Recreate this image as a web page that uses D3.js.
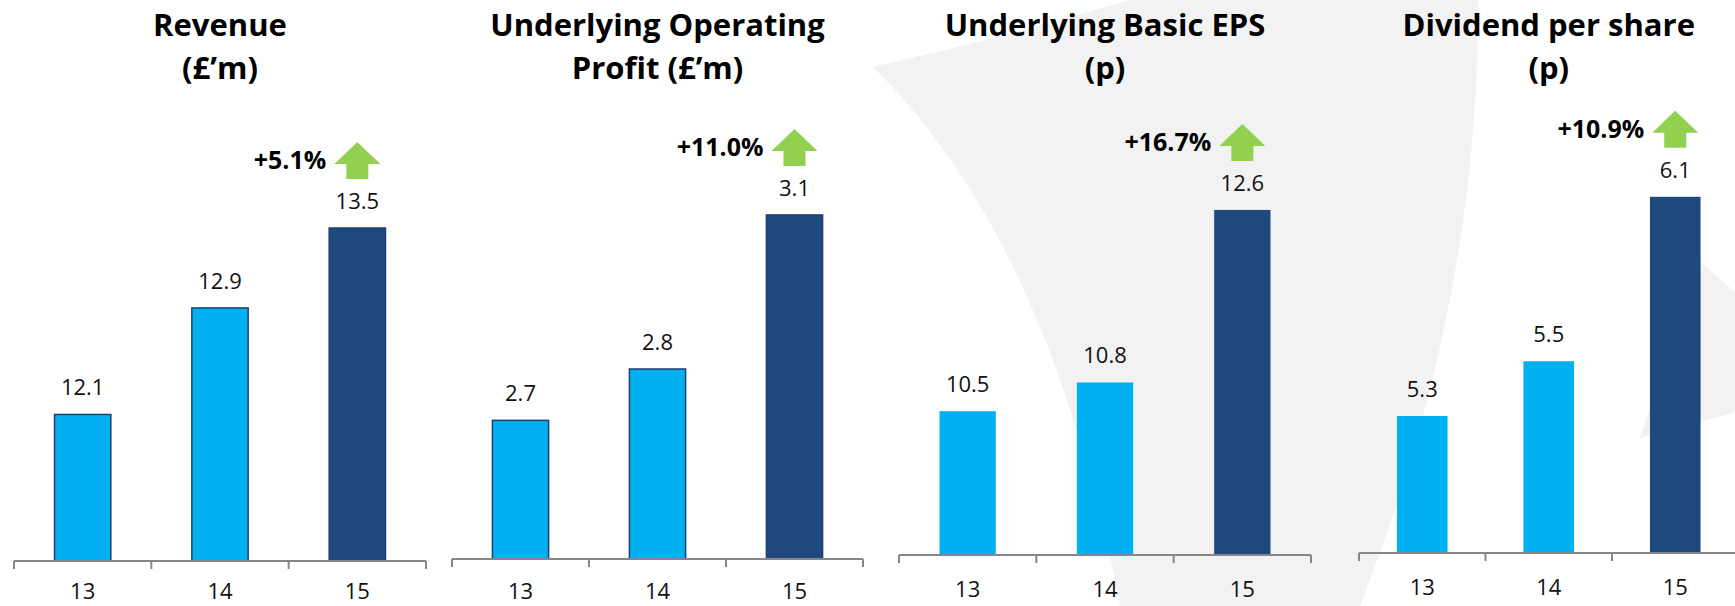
<!DOCTYPE html>
<html>
<head>
<meta charset="utf-8">
<script src="https://cdn.jsdelivr.net/npm/d3@7"></script>
<style>
  html, body { margin: 0; padding: 0; background: #fff; }
  svg { display: block; font-family: "Open Sans", "DejaVu Sans", sans-serif; }
</style>
</head>
<body>
<svg id="chart" width="1735" height="606"></svg>
<script>
// Valores (anos fiscais 13, 14, 15)
const YEARS = ["13", "14", "15"];
const REVENUE = [12.1, 12.9, 13.5];
const OPERATING_PROFIT = [2.7, 2.8, 3.1];
const BASIC_EPS = [10.5, 10.8, 12.6];
const DIVIDEND = [5.3, 5.5, 6.1];
const SERIES = [REVENUE, OPERATING_PROFIT, BASIC_EPS, DIVIDEND];

const TITLES = [
  ["Revenue", "(£’m)"],
  ["Underlying Operating", "Profit (£’m)"],
  ["Underlying Basic EPS", "(p)"],
  ["Dividend per share", "(p)"],
];
const GROWTH = ["+5.1%", "+11.0%", "+16.7%", "+10.9%"];

// Eixo Y de cada painel não começa em zero (como no original do Excel)
const Y_DOMAINS = [[11, 14], [2.43, 3.2], [9, 13], [4.8, 6.2]];

// Layout de cada painel: faixa do eixo x, linha de base e topo da área de plotagem
const PANELS = [
  { x0: 14, x1: 426, base: 561, top: 161.4, bw: 0.41, outline: true },
  { x0: 452, x1: 863, base: 559, top: 163.6, bw: 0.41, outline: true },
  { x0: 899, x1: 1311, base: 555, top: 171.6, bw: 0.41, outline: false },
  { x0: 1359, x1: 1738.5, base: 553, top: 169.4, bw: 0.40, outline: false },
];

const LIGHT = "#00B0F0";
const DARK = "#1F487C";
const ARROW = "#92D050";
const AXIS = "#878787";

const svg = d3.select("#chart");

// Marca d'água cinza ao fundo
const bg = svg.append("g").attr("fill", "#F2F2F2");
bg.append("path")
  .attr("d", "M873,67 Q985,42 1130,0 L1478,0 Q1480,300 1360,606 L1120,606 Q1050,240 873,67 Z");
bg.append("path")
  .attr("d", "M1640,438 L1700,262 L1735,292 L1735,412 Z");

PANELS.forEach((p, i) => {
  const values = SERIES[i];
  const g = svg.append("g");

  const x = d3.scaleBand().domain(YEARS).range([p.x0, p.x1])
    .paddingInner(1 - p.bw).paddingOuter((1 - p.bw) / 2);
  const y = d3.scaleLinear().domain(Y_DOMAINS[i]).range([p.base, p.top]);

  // Título em duas linhas
  const cx = (p.x0 + p.x1) / 2;
  g.append("text")
    .attr("x", cx).attr("y", 36)
    .attr("text-anchor", "middle")
    .style("font-size", "31px").style("font-weight", "700").style("fill", "#000")
    .selectAll("tspan").data(TITLES[i]).join("tspan")
    .attr("x", cx).attr("dy", (d, j) => (j === 0 ? 0 : 43))
    .text((d) => d);

  // Barras: o último ano em azul escuro
  g.selectAll("rect").data(values).join("rect")
    .attr("x", (d, j) => x(YEARS[j]))
    .attr("width", x.bandwidth())
    .attr("y", (d) => y(d))
    .attr("height", (d) => p.base - y(d))
    .attr("fill", (d, j) => (j === YEARS.length - 1 ? DARK : LIGHT))
    .attr("stroke", p.outline ? "#1D3F73" : "none")
    .attr("stroke-width", p.outline ? 1.5 : 0);

  // Rótulos de valor acima das barras
  g.selectAll(".val").data(values).join("text")
    .attr("class", "val")
    .attr("x", (d, j) => x(YEARS[j]) + x.bandwidth() / 2)
    .attr("y", (d) => y(d) - 19)
    .attr("text-anchor", "middle")
    .style("font-size", "22px").style("fill", "#111")
    .text((d) => d.toFixed(1));

  // Eixo x com marcas entre as categorias
  const axis = g.append("g").attr("transform", `translate(0,${p.base})`);
  axis.append("line")
    .attr("x1", p.x0).attr("x2", p.x1)
    .attr("stroke", AXIS).attr("stroke-width", 2);
  const step = x.step();
  axis.selectAll(".tick").data(d3.range(YEARS.length + 1)).join("line")
    .attr("class", "tick")
    .attr("x1", (k) => p.x0 + k * step).attr("x2", (k) => p.x0 + k * step)
    .attr("y1", 0).attr("y2", 8)
    .attr("stroke", AXIS).attr("stroke-width", 2);
  // rótulos do eixo rentes à borda inferior, sem ultrapassá-la
  const lblY = Math.min(42, 599 - p.base);
  axis.selectAll(".lbl").data(YEARS).join("text")
    .attr("class", "lbl")
    .attr("x", (d) => x(d) + x.bandwidth() / 2)
    .attr("y", lblY)
    .attr("text-anchor", "middle")
    .style("font-size", "22px").style("fill", "#111")
    .text((d) => d);

  // Seta verde de crescimento sobre a última barra
  const last = YEARS[YEARS.length - 1];
  const ax = x(last) + x.bandwidth() / 2;
  const yb = y(values[values.length - 1]) - 49;
  g.append("path")
    .attr("d", `M${ax - 11},${yb} L${ax - 11},${yb - 15} L${ax - 23},${yb - 15} L${ax},${yb - 37}
                L${ax + 23},${yb - 15} L${ax + 11},${yb - 15} L${ax + 11},${yb} Z`)
    .attr("fill", ARROW);
  g.append("text")
    .attr("x", ax - 31).attr("y", yb - 10)
    .attr("text-anchor", "end")
    .style("font-size", "25px").style("font-weight", "700").style("fill", "#000")
    .text(GROWTH[i]);
});
</script>
</body>
</html>
